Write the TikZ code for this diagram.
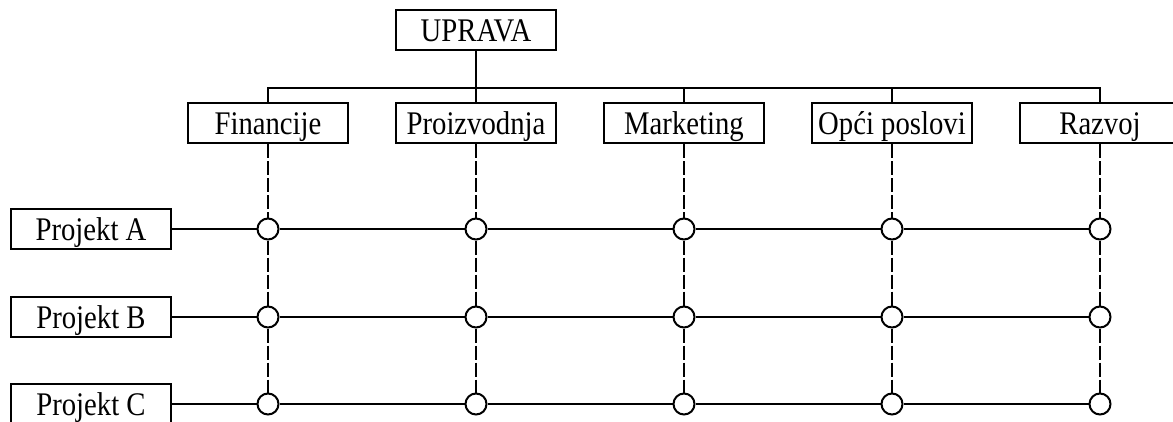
\documentclass[tikz,border=0pt]{standalone}
\usepackage{fontspec}
\setmainfont{Liberation Serif}[FakeStretch=0.87]
\begin{document}
\begin{tikzpicture}[x=1pt,y=-1pt,
  line width=2pt,
  box/.style={draw, fill=white, minimum width=160pt, minimum height=40pt, inner sep=0pt,
    text height=22pt, text depth=0pt, font=\fontsize{33}{36}\selectfont},
  dot/.style={draw, fill=white, circle, minimum size=21pt, inner sep=0pt},
  dashline/.style={dash pattern=on 14pt off 3pt}]
\useasboundingbox (0,0) rectangle (1173,421);
\node[box] (up) at (476,30) {UPRAVA};
\node[box] (d1) at (268,123) {Financije};
\node[box] (d2) at (476,123) {Proizvodnja};
\node[box] (d3) at (684,123) {Marketing};
\node[box] (d4) at (892,123) {Opći poslovi};
\node[box] (d5) at (1100,123) {Razvoj};
\node[box] (pA) at (91,229) {Projekt A};
\node[box] (pB) at (91,317) {Projekt B};
\node[box] (pC) at (91,404) {Projekt C};
\coordinate (bus) at (0,88);
\draw (up.south) -- (d2.north);
\draw (d1.north) -- (d1.north |- bus) -- (d5.north |- bus) -- (d5.north);
\foreach \d in {d3,d4} \draw (\d.north) -- (\d.north |- bus);
\foreach \i in {1,...,5} {
  \foreach \j in {A,B,C} {
    \node[dot] (c-\i-\j) at (d\i |- p\j) {};
  }
  \draw[dashline] (d\i) -- (c-\i-A) -- (c-\i-B) -- (c-\i-C);
}
\foreach \j in {A,B,C} {
  \draw (p\j) -- (c-1-\j) -- (c-2-\j) -- (c-3-\j) -- (c-4-\j) -- (c-5-\j);
}
\end{tikzpicture}
\end{document}
